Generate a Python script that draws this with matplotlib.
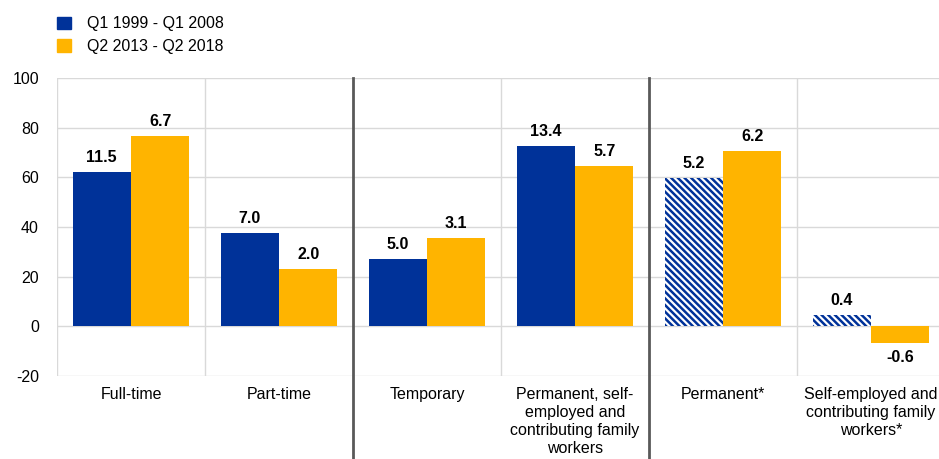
import matplotlib
matplotlib.use("Agg")
import matplotlib.pyplot as plt
from matplotlib.patches import Patch

plt.rcParams['font.family'] = ['Liberation Sans', 'DejaVu Sans']
plt.rcParams['hatch.linewidth'] = 1.8

categories = ["Full-time", "Part-time", "Temporary",
              "Permanent, self-\nemployed and\ncontributing family\nworkers",
              "Permanent*", "Self-employed and\ncontributing family\nworkers*"]
series1_name = "Q1 1999 - Q1 2008"
series2_name = "Q2 2013 - Q2 2018"
series1 = [62.0, 37.5, 27.0, 72.5, 59.8, 4.7]
series2 = [76.7, 23.0, 35.4, 64.5, 70.8, -6.7]
labels1 = ["11.5", "7.0", "5.0", "13.4", "5.2", "0.4"]
labels2 = ["6.7", "2.0", "3.1", "5.7", "6.2", "-0.6"]
hatched1 = [False, False, False, False, True, True]
yticks = [-20, 0, 20, 40, 60, 80, 100]

BLUE = "#003299"
ORANGE = "#FFB400"
FS = 11.5

fig = plt.figure(figsize=(9.39, 4.59), dpi=100)
ax = fig.add_axes([57/939, 1-376/459, 888/939, (376-78)/459])

w = 0.395
x = list(range(len(categories)))
for i in x:
    if hatched1[i]:
        ax.bar(i - w/2, series1[i], w, facecolor="white", edgecolor=BLUE,
               hatch="\\\\\\\\\\", linewidth=0, zorder=3)
    else:
        ax.bar(i - w/2, series1[i], w, color=BLUE, zorder=3)
    ax.bar(i + w/2, series2[i], w, color=ORANGE, zorder=3)

def put(xp, v, s):
    if v >= 0:
        ax.annotate(s, (xp, v), xytext=(0, 5), textcoords="offset points",
                    ha="center", va="bottom", fontsize=FS, fontweight="bold")
    else:
        ax.annotate(s, (xp, v), xytext=(0, -5), textcoords="offset points",
                    ha="center", va="top", fontsize=FS, fontweight="bold")

for i in x:
    put(i - w/2, series1[i], labels1[i])
    put(i + w/2, series2[i], labels2[i])

ax.set_xlim(-0.5, len(categories) - 0.5)
ax.set_ylim(-20, 100)
ax.set_yticks(yticks)
ax.set_yticklabels([str(t) for t in yticks], fontsize=FS)
ax.tick_params(axis="y", length=0, pad=13)
ax.set_xticks(x)
ax.set_xticklabels(categories, fontsize=FS, linespacing=1.25, va="top")
ax.tick_params(axis="x", length=0, pad=8)

for s in ax.spines.values():
    s.set_visible(False)
ax.grid(axis="y", color="#d9d9d9", linewidth=1, zorder=0)
for b in [0.5, 1.5, 2.5, 3.5, 4.5]:
    if b in (1.5, 3.5):
        ax.axvline(b, ymin=-0.3, ymax=1, color="#595959", linewidth=2,
                   clip_on=False, zorder=4)
    else:
        ax.axvline(b, color="#d9d9d9", linewidth=1, zorder=0)
ax.axvline(-0.5, color="#d9d9d9", linewidth=1, zorder=0)

handles = [Patch(color=BLUE, label=series1_name),
           Patch(color=ORANGE, label=series2_name)]
fig.legend(handles=handles, loc="upper left", bbox_to_anchor=(0.054, 0.978),
           frameon=False, fontsize=FS, handlelength=0.85, handleheight=0.85,
           handletextpad=1.0, labelspacing=0.45, borderaxespad=0)

fig.savefig("out.png", dpi=100)
